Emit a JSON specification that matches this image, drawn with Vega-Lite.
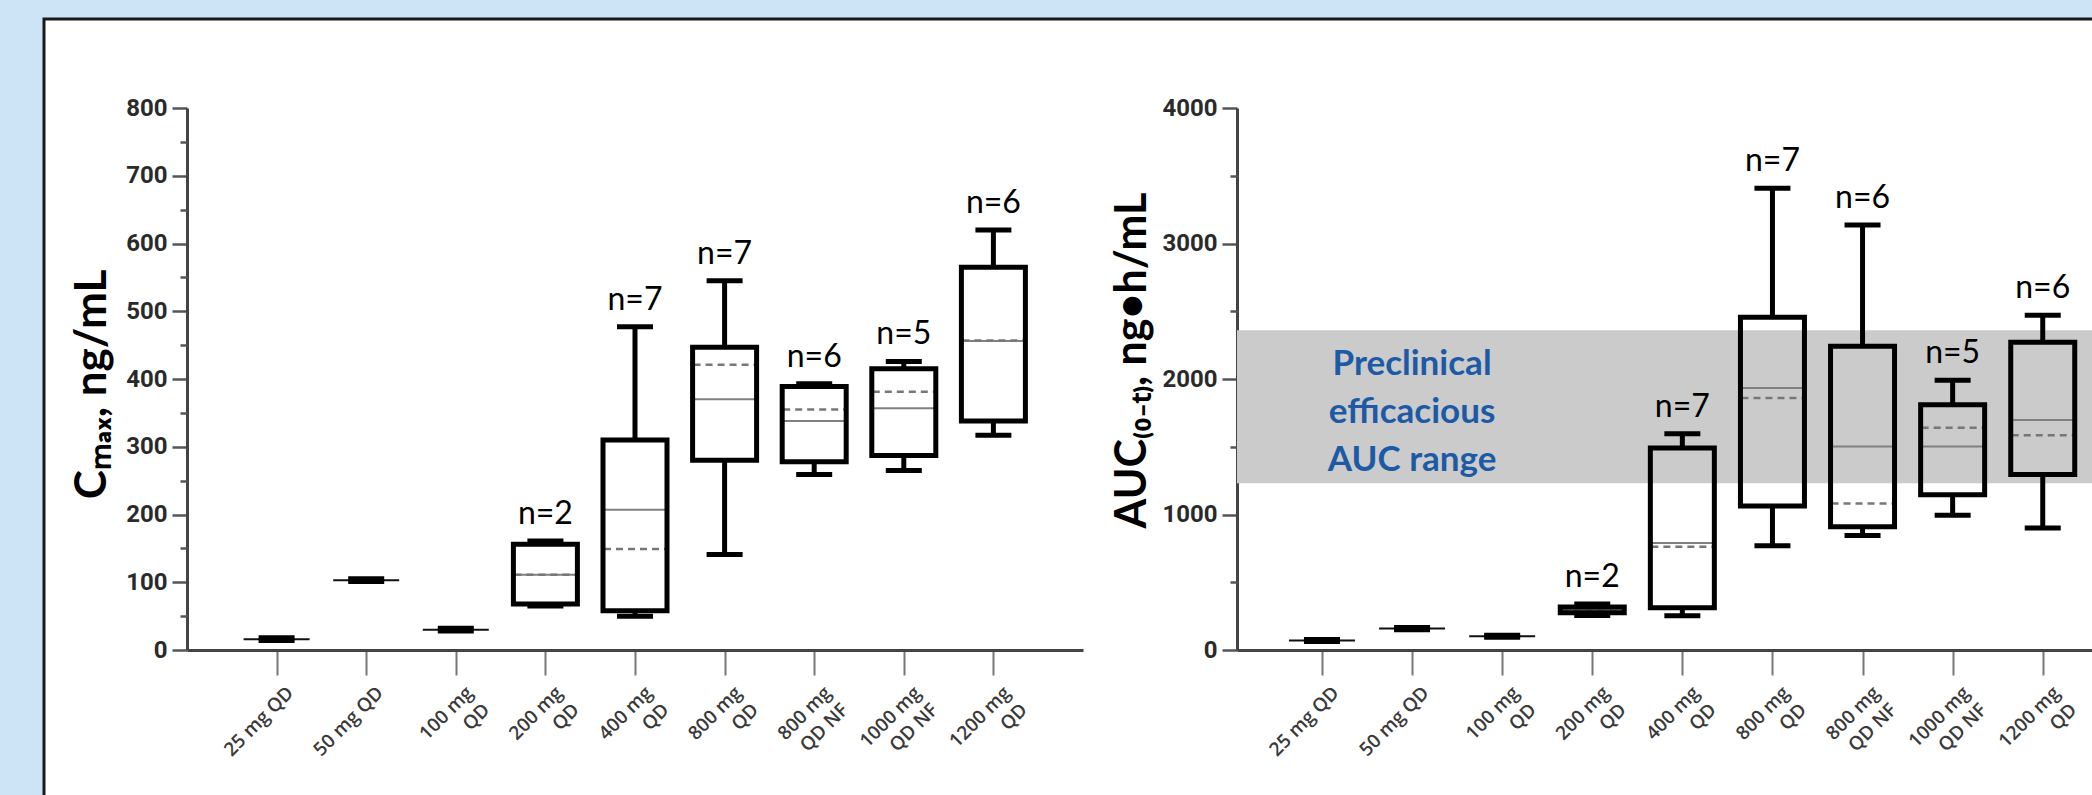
{
  "$schema": "https://vega.github.io/schema/vega-lite/v6.json",
  "width": 2052,
  "height": 780,
  "autosize": {"type": "none"},
  "padding": {"left": 44, "top": 19, "right": -4, "bottom": -4},
  "background": "#cde3f6",
  "config": {
    "view": {"fill": "white", "stroke": "#1a1a1a", "strokeWidth": 3},
    "axis": {"grid": false}
  },
  "datasets": {
    "cmax": [
      {"dose": "25 mg QD", "min": 14, "q1": null, "median": 16, "q3": null, "max": 18, "mean": null, "nlab": null},
      {"dose": "50 mg QD", "min": 101, "q1": null, "median": 103, "q3": null, "max": 105, "mean": null, "nlab": null},
      {"dose": "100 mg QD", "min": 28, "q1": null, "median": 30, "q3": null, "max": 32, "mean": null, "nlab": null},
      {"dose": "200 mg QD", "min": 65, "q1": 68, "median": 111, "q3": 156, "max": 161, "mean": 111, "nlab": "n=2"},
      {"dose": "400 mg QD", "min": 50, "q1": 58, "median": 207, "q3": 310, "max": 477, "mean": 149, "nlab": "n=7"},
      {"dose": "800 mg QD", "min": 141, "q1": 280, "median": 370, "q3": 447, "max": 545, "mean": 421, "nlab": "n=7"},
      {"dose": "800 mg QD NF", "min": 259, "q1": 278, "median": 338, "q3": 389, "max": 393, "mean": 355, "nlab": "n=6"},
      {"dose": "1000 mg QD NF", "min": 265, "q1": 287, "median": 357, "q3": 415, "max": 426, "mean": 381, "nlab": "n=5"},
      {"dose": "1200 mg QD", "min": 317, "q1": 338, "median": 456, "q3": 565, "max": 620, "mean": 457, "nlab": "n=6"}
    ],
    "auc": [
      {"dose": "25 mg QD", "min": 62, "q1": null, "median": 70, "q3": null, "max": 78, "mean": null, "nlab": null},
      {"dose": "50 mg QD", "min": 150, "q1": null, "median": 158, "q3": null, "max": 166, "mean": null, "nlab": null},
      {"dose": "100 mg QD", "min": 94, "q1": null, "median": 101, "q3": null, "max": 108, "mean": null, "nlab": null},
      {"dose": "200 mg QD", "min": 255, "q1": 275, "median": 297, "q3": 318, "max": 340, "mean": 297, "nlab": "n=2"},
      {"dose": "400 mg QD", "min": 252, "q1": 312, "median": 789, "q3": 1491, "max": 1596, "mean": 762, "nlab": "n=7"},
      {"dose": "800 mg QD", "min": 770, "q1": 1063, "median": 1934, "q3": 2456, "max": 3407, "mean": 1859, "nlab": "n=7"},
      {"dose": "800 mg QD NF", "min": 845, "q1": 909, "median": 1502, "q3": 2242, "max": 3136, "mean": 1082, "nlab": "n=6"},
      {"dose": "1000 mg QD NF", "min": 995, "q1": 1146, "median": 1502, "q3": 1810, "max": 1991, "mean": 1641, "nlab": "n=5"},
      {"dose": "1200 mg QD", "min": 901, "q1": 1296, "median": 1698, "q3": 2272, "max": 2471, "mean": 1585, "nlab": "n=6"}
    ],
    "band": [
      {"lo": 1230, "hi": 2360, "note": "Preclinical\nefficacious\nAUC range"}
    ]
  },
  "layer": [
    {
      "data": {"name": "band"},
      "mark": {"type": "rect", "color": "#cbcbcb"},
      "encoding": {
        "x": {"datum": 0, "type": "quantitative", "scale": {"domain": [0, 1], "range": [1193, 2100]}, "axis": null},
        "x2": {"datum": 1},
        "y": {"field": "lo", "type": "quantitative", "scale": {"domain": [0, 4000], "range": [631, 89], "nice": false, "zero": false}, "axis": null},
        "y2": {"field": "hi"}
      }
    },
    {
      "data": {"name": "cmax"},
      "resolve": {"axis": {"y": "independent"}},
      "encoding": {
        "x": {
          "field": "dose", "type": "nominal", "sort": null,
          "scale": {"type": "point", "range": [143, 1039], "padding": 1},
          "axis": {
            "orient": "bottom", "offset": -149, "title": null,
            "labelAngle": -45, "labelAlign": "right", "labelBaseline": "top", "labelOverlap": false,
            "labelExpr": "length(datum.label) > 8 ? [slice(datum.label, 0, indexof(datum.label, 'mg') + 2), slice(datum.label, indexof(datum.label, 'mg') + 3)] : datum.label",
            "labelFont": "Open Sans", "labelFontSize": 19, "labelFontWeight": 600, "labelColor": "#3a3a3a", "labelPadding": 8, "labelOffset": 7, "labelLineHeight": 24,
            "tickSize": 25, "tickColor": "#777777", "tickWidth": 2,
            "domainColor": "#444444", "domainWidth": 3
          }
        }
      },
      "layer": [
        {
          "mark": {"type": "rule", "color": "#808080", "strokeWidth": 2, "xOffset": -33, "x2Offset": 33},
          "encoding": {
            "x2": {"field": "dose"},
            "y": {
              "field": "median", "type": "quantitative",
              "scale": {"domain": [0, 800], "range": [631, 89], "nice": false, "zero": false},
              "axis": {
                "orient": "left", "offset": -143, "title": "Cₘₐₓ, ng/mL",
                "values": [0, 100, 200, 300, 400, 500, 600, 700, 800],
                "tickSize": 15,
                "tickColor": "#555555", "tickWidth": 2.5, "domainColor": "#444444", "domainWidth": 3,
                "labelFont": "Roboto", "labelFontSize": 24, "labelFontWeight": "bold", "labelColor": "#2a2a2a", "labelPadding": 5,
                "titleFont": "Lato", "titleFontSize": 44, "titleFontWeight": "bold", "titleColor": "#000000",
                "titleX": -82, "titleY": 365, "titleBaseline": "alphabetic", "titleAngle": -90, "titleAlign": "center"
              }
            },
            "color": {"condition": {"test": "datum.q1 == null", "value": "#111111"}, "value": "#808080"},
            "strokeWidth": {"condition": {"test": "datum.q1 == null", "value": 3}, "value": 2}
          }
        },
        {
          "transform": [{"filter": "isValid(datum.q1)"}],
          "mark": {"type": "rule", "color": "#777777", "strokeWidth": 2.5, "strokeDash": [7, 5], "xOffset": -31, "x2Offset": 31},
          "encoding": {
            "x2": {"field": "dose"},
            "y": {
              "field": "mean", "type": "quantitative",
              "axis": {
                "orient": "left", "offset": -143, "title": null,
                "values": [50, 150, 250, 350, 450, 550, 650, 750],
                "labels": false, "domain": false,
                "tickSize": 7, "tickColor": "#555555", "tickWidth": 2.5
              }
            }
          }
        },
        {
          "transform": [{"filter": "isValid(datum.q1)"}],
          "mark": {"type": "bar", "width": 64, "fill": "transparent", "stroke": "#000000", "strokeWidth": 5, "strokeJoin": "miter"},
          "encoding": {
            "y": {"field": "q1", "type": "quantitative", "axis": null},
            "y2": {"field": "q3"}
          }
        },
        {
          "transform": [{"filter": "isValid(datum.q1)"}],
          "mark": {"type": "rule", "color": "#000000", "strokeWidth": 5},
          "encoding": {
            "y": {"field": "q3", "type": "quantitative", "axis": null},
            "y2": {"field": "max"}
          }
        },
        {
          "transform": [{"filter": "isValid(datum.q1)"}],
          "mark": {"type": "rule", "color": "#000000", "strokeWidth": 5},
          "encoding": {
            "y": {"field": "min", "type": "quantitative", "axis": null},
            "y2": {"field": "q1"}
          }
        },
        {
          "mark": {"type": "tick", "color": "#000000", "size": 36, "thickness": 5, "opacity": 1},
          "encoding": {"y": {"field": "max", "type": "quantitative", "axis": null}}
        },
        {
          "mark": {"type": "tick", "color": "#000000", "size": 36, "thickness": 5, "opacity": 1},
          "encoding": {"y": {"field": "min", "type": "quantitative", "axis": null}}
        },
        {
          "transform": [{"filter": "isValid(datum.nlab)"}],
          "mark": {"type": "text", "font": "Lato", "fontSize": 32, "color": "#000000", "dy": -27, "baseline": "middle", "align": "center"},
          "encoding": {
            "y": {"field": "max", "type": "quantitative", "axis": null},
            "text": {"field": "nlab"}
          }
        }
      ]
    },
    {
      "data": {"name": "auc"},
      "resolve": {"axis": {"y": "independent"}},
      "encoding": {
        "x": {
          "field": "dose", "type": "nominal", "sort": null,
          "scale": {"type": "point", "range": [1193, 2083.7], "padding": 0.943},
          "axis": {
            "orient": "bottom", "offset": -149, "title": null,
            "labelAngle": -45, "labelAlign": "right", "labelBaseline": "top", "labelOverlap": false,
            "labelExpr": "length(datum.label) > 8 ? [slice(datum.label, 0, indexof(datum.label, 'mg') + 2), slice(datum.label, indexof(datum.label, 'mg') + 3)] : datum.label",
            "labelFont": "Open Sans", "labelFontSize": 19, "labelFontWeight": 600, "labelColor": "#3a3a3a", "labelPadding": 8, "labelOffset": 7, "labelLineHeight": 24,
            "tickSize": 25, "tickColor": "#777777", "tickWidth": 2,
            "domainColor": "#444444", "domainWidth": 3
          }
        }
      },
      "layer": [
        {
          "mark": {"type": "rule", "color": "#808080", "strokeWidth": 2, "xOffset": -33, "x2Offset": 33},
          "encoding": {
            "x2": {"field": "dose"},
            "y": {
              "field": "median", "type": "quantitative",
              "scale": {"domain": [0, 4000], "range": [631, 89], "nice": false, "zero": false},
              "axis": {
                "orient": "left", "offset": -1193, "title": "AUC₍₀₋ₜ₎, ng•h/mL",
                "values": [0, 1000, 2000, 3000, 4000],
                "format": "d",
                "tickSize": 15,
                "tickColor": "#555555", "tickWidth": 2.5, "domainColor": "#444444", "domainWidth": 3,
                "labelFont": "Roboto", "labelFontSize": 24, "labelFontWeight": "bold", "labelColor": "#2a2a2a", "labelPadding": 5,
                "titleFont": "Lato", "titleFontSize": 43, "titleFontWeight": "bold", "titleColor": "#000000",
                "titleX": -92, "titleY": 341, "titleBaseline": "alphabetic", "titleAngle": -90, "titleAlign": "center"
              }
            },
            "color": {"condition": {"test": "datum.q1 == null", "value": "#111111"}, "value": "#808080"},
            "strokeWidth": {"condition": {"test": "datum.q1 == null", "value": 3}, "value": 2}
          }
        },
        {
          "transform": [{"filter": "isValid(datum.q1)"}],
          "mark": {"type": "rule", "color": "#777777", "strokeWidth": 2.5, "strokeDash": [7, 5], "xOffset": -31, "x2Offset": 31},
          "encoding": {
            "x2": {"field": "dose"},
            "y": {
              "field": "mean", "type": "quantitative",
              "axis": {
                "orient": "left", "offset": -1193, "title": null,
                "values": [500, 1500, 2500, 3500],
                "labels": false, "domain": false,
                "tickSize": 7, "tickColor": "#555555", "tickWidth": 2.5
              }
            }
          }
        },
        {
          "transform": [{"filter": "isValid(datum.q1)"}],
          "mark": {"type": "bar", "width": 64, "fill": "transparent", "stroke": "#000000", "strokeWidth": 5, "strokeJoin": "miter"},
          "encoding": {
            "y": {"field": "q1", "type": "quantitative", "axis": null},
            "y2": {"field": "q3"}
          }
        },
        {
          "transform": [{"filter": "isValid(datum.q1)"}],
          "mark": {"type": "rule", "color": "#000000", "strokeWidth": 5},
          "encoding": {
            "y": {"field": "q3", "type": "quantitative", "axis": null},
            "y2": {"field": "max"}
          }
        },
        {
          "transform": [{"filter": "isValid(datum.q1)"}],
          "mark": {"type": "rule", "color": "#000000", "strokeWidth": 5},
          "encoding": {
            "y": {"field": "min", "type": "quantitative", "axis": null},
            "y2": {"field": "q1"}
          }
        },
        {
          "mark": {"type": "tick", "color": "#000000", "size": 36, "thickness": 5, "opacity": 1},
          "encoding": {"y": {"field": "max", "type": "quantitative", "axis": null}}
        },
        {
          "mark": {"type": "tick", "color": "#000000", "size": 36, "thickness": 5, "opacity": 1},
          "encoding": {"y": {"field": "min", "type": "quantitative", "axis": null}}
        },
        {
          "transform": [{"filter": "isValid(datum.nlab)"}],
          "mark": {"type": "text", "font": "Lato", "fontSize": 32, "color": "#000000", "dy": -27, "baseline": "middle", "align": "center"},
          "encoding": {
            "y": {"field": "max", "type": "quantitative", "axis": null},
            "text": {"field": "nlab"}
          }
        },
        {
          "data": {"name": "band"},
          "mark": {"type": "text", "font": "Lato", "fontSize": 35, "fontWeight": "bold", "color": "#1c5aa6", "lineBreak": "\n", "lineHeight": 48, "baseline": "middle", "align": "center"},
          "encoding": {
            "x": {"datum": "50 mg QD"},
            "y": {"datum": 2110, "type": "quantitative", "axis": null},
            "text": {"field": "note"}
          }
        }
      ]
    }
  ],
  "resolve": {
    "scale": {"x": "independent", "y": "independent"},
    "axis": {"x": "independent", "y": "independent"}
  }
}
